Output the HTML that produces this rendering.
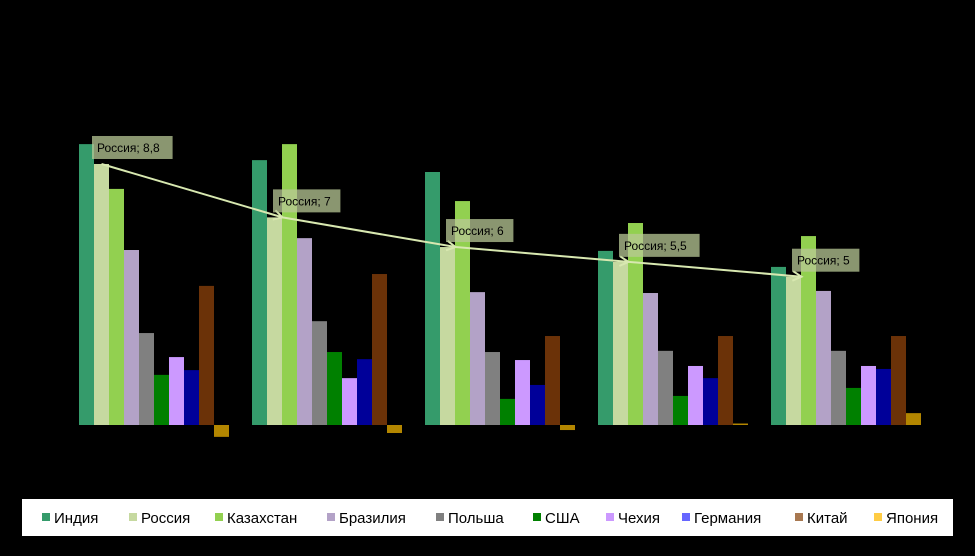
<!DOCTYPE html>
<html><head><meta charset="utf-8">
<style>
body{margin:0;background:#000;}
svg{display:block;font-family:"Liberation Sans",sans-serif;}
</style></head>
<body>
<svg id="chart" width="975" height="556" viewBox="0 0 975 556" xmlns="http://www.w3.org/2000/svg">
<rect x="0" y="0" width="975" height="556" fill="#000"/>
<g id="bars"></g>
<g id="line"></g>
<g id="labels"></g>
<g id="legend">
<rect x="22" y="499" width="931" height="37" fill="#fff"/>
</g>
</svg>
<script>
const series = ["Индия","Россия","Казахстан","Бразилия","Польша","США","Чехия","Германия","Китай","Япония"];
const india = [9.47, 8.93, 8.53, 5.87, 5.33];
const russia = [8.8, 7, 6, 5.5, 5];
const kazakhstan = [7.96, 9.47, 7.55, 6.81, 6.37];
const brazil = [5.9, 6.3, 4.48, 4.45, 4.52];
const poland = [3.1, 3.5, 2.46, 2.5, 2.5];
const usa = [1.69, 2.46, 0.88, 0.98, 1.25];
const czech = [2.29, 1.58, 2.19, 1.99, 1.99];
const germany = [1.85, 2.22, 1.35, 1.58, 1.89];
const china = [4.69, 5.09, 3.0, 3.0, 3.0];
const japan = [-0.4, -0.27, -0.17, 0.05, 0.4];
const russiaLabels = ["Россия; 8,8","Россия; 7","Россия; 6","Россия; 5,5","Россия; 5"];
const values = [india,russia,kazakhstan,brazil,poland,usa,czech,germany,china,japan];
const colors = ["#359b6b","#c6d9a0","#92d050","#b3a2c7","#808080","#008000","#cc99ff","#000099","#6b3208","#b38600"];
const legendColors = ["#359b6b","#c6d9a0","#92d050","#b3a2c7","#808080","#008000","#cc99ff","#6666ff","#a87850","#ffcc44"];
const NS="http://www.w3.org/2000/svg";
const baseY=425, unit=29.66, groupX0=79, groupW=173, barW=15;
function y(v){return baseY - v*unit;}
function gx(g,s){return groupX0 + g*groupW + s*barW;}
function mk(t,a){const e=document.createElementNS(NS,t);for(const k in a)e.setAttribute(k,a[k]);return e;}
const barsG=document.getElementById('bars');
values.forEach((arr,s)=>{arr.forEach((v,g)=>{
  const r=mk('rect',{x:gx(g,s),y:Math.min(y(v),baseY),width:barW,height:Math.max(Math.abs(y(v)-baseY),1),fill:colors[s]});
  
  
  barsG.appendChild(r);
});});
const lineG=document.getElementById('line');
let pts=russia.map((v,g)=>[gx(g,1)+barW/2+ (g?8:0), y(v)]);
const pl=mk('polyline',{points:pts.map(p=>p.join(',')).join(' '),fill:'none',stroke:'#d8e8b0','stroke-width':2});


lineG.appendChild(pl);
for(let i=1;i<pts.length;i++){
  const [x1,y1]=pts[i-1],[x2,y2]=pts[i];const a=Math.atan2(y2-y1,x2-x1);
  const p1=[x2-10*Math.cos(a-0.5),y2-10*Math.sin(a-0.5)],p2=[x2-10*Math.cos(a+0.5),y2-10*Math.sin(a+0.5)];
  const ar=mk('polyline',{points:`${p1} ${x2},${y2} ${p2}`,fill:'none',stroke:'#d8e8b0','stroke-width':2});
  
  
  lineG.appendChild(ar);
}
const labG=document.getElementById('labels');
russia.forEach((v,g)=>{
  const lx=gx(g,1)-2+(g?8:0), ly=y(v)-28;
  const w=russiaLabels[g].length*6.6+8;
  const b=mk('rect',{x:lx,y:ly,width:w,height:23,fill:'#b8c896','fill-opacity':0.75});
  
  
  labG.appendChild(b);
  const t=mk('text',{x:lx+5,y:ly+16,'font-size':12,fill:'#000'});
  t.textContent=russiaLabels[g];
  
  
  labG.appendChild(t);
});
const legG=document.getElementById('legend');
const legX=[42,129,215,327,436,533,606,682,795,874];
series.forEach((n,i)=>{
  const r=mk('rect',{x:legX[i],y:513,width:8,height:8,fill:legendColors[i]});
  
  
  legG.appendChild(r);
  const t=mk('text',{x:legX[i]+12,y:523,'font-size':15,fill:'#000'});
  t.textContent=n;
  
  
  legG.appendChild(t);
});
</script>
</body></html>
